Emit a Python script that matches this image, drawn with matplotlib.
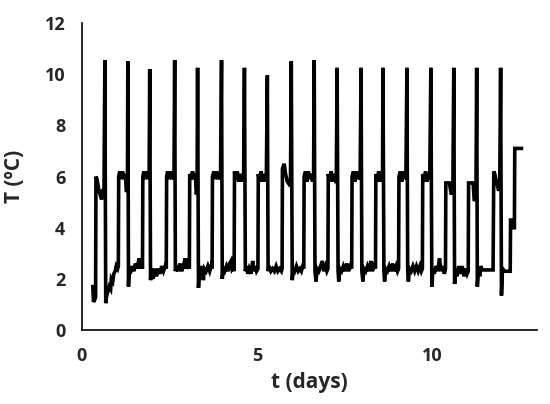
import matplotlib
matplotlib.use("Agg")
import matplotlib.pyplot as plt

# temperature log (one row per cooling cycle)
t_days = [
    0.31, 0.33, 0.37, 0.39, 0.40, 0.43, 0.48, 0.56, 0.60, 0.63, 0.655, 0.68,
    0.70, 0.74, 0.78, 0.82, 0.84, 0.88, 0.91, 0.95, 0.98, 1.02, 1.04,
    1.05, 1.08, 1.12, 1.16, 1.20, 1.24, 1.27, 1.30, 1.311, 1.33,
    1.35, 1.38, 1.43, 1.48, 1.53, 1.58, 1.63, 1.66, 1.70, 1.73,
    1.74, 1.77, 1.81, 1.85, 1.89, 1.92, 1.937, 1.96,
    1.99, 2.03, 2.08, 2.13, 2.18, 2.23, 2.28, 2.33, 2.38, 2.41,
    2.42, 2.45, 2.49, 2.53, 2.57, 2.61, 2.63, 2.650, 2.67,
    2.70, 2.75, 2.80, 2.85, 2.90, 2.95, 2.98, 3.02, 3.07,
    3.08, 3.12, 3.16, 3.20, 3.24, 3.27, 3.29, 3.305, 3.33,
    3.36, 3.40, 3.44, 3.47, 3.50, 3.55, 3.60, 3.65, 3.69, 3.72,
    3.73, 3.77, 3.81, 3.85, 3.89, 3.93, 3.96, 3.989, 4.01,
    4.04, 4.08, 4.13, 4.18, 4.22, 4.26, 4.29, 4.33, 4.35,
    4.36, 4.40, 4.44, 4.48, 4.52, 4.56, 4.60, 4.62, 4.644, 4.67,
    4.70, 4.74, 4.78, 4.83, 4.88, 4.91, 4.95, 4.99, 5.03,
    5.04, 5.08, 5.12, 5.16, 5.20, 5.24, 5.27, 5.299, 5.32,
    5.35, 5.40, 5.45, 5.50, 5.55, 5.60, 5.65, 5.70, 5.72,
    5.73, 5.78, 5.82, 5.87, 5.92, 5.96, 5.983, 6.01,
    6.04, 6.08, 6.13, 6.18, 6.23, 6.27, 6.31, 6.34,
    6.35, 6.39, 6.43, 6.47, 6.51, 6.55, 6.59, 6.62, 6.638, 6.66,
    6.69, 6.72, 6.77, 6.82, 6.87, 6.91, 6.96, 7.00, 7.03,
    7.04, 7.08, 7.12, 7.16, 7.20, 7.24, 7.27, 7.293, 7.32,
    7.34, 7.37, 7.42, 7.47, 7.52, 7.57, 7.62, 7.67, 7.71,
    7.72, 7.76, 7.80, 7.84, 7.88, 7.92, 7.95, 7.977, 8.00,
    8.03, 8.06, 8.11, 8.16, 8.21, 8.26, 8.30, 8.35, 8.39,
    8.40, 8.44, 8.48, 8.52, 8.56, 8.59, 8.604, 8.63,
    8.65, 8.68, 8.73, 8.78, 8.83, 8.88, 8.93, 8.98, 9.02, 9.05,
    9.06, 9.10, 9.14, 9.18, 9.22, 9.26, 9.288, 9.31,
    9.33, 9.36, 9.41, 9.46, 9.51, 9.56, 9.61, 9.66, 9.70, 9.73,
    9.74, 9.78, 9.82, 9.86, 9.90, 9.94, 9.972, 10.00,
    10.03, 10.07, 10.12, 10.17, 10.22, 10.26, 10.31, 10.36, 10.39,
    10.40, 10.50, 10.55, 10.60, 10.627, 10.65,
    10.68, 10.72, 10.77, 10.82, 10.87, 10.92, 10.97, 11.01, 11.04,
    11.05, 11.18, 11.21, 11.26, 11.282, 11.30,
    11.33, 11.37, 11.40, 11.44, 11.75,
    11.77, 11.80, 11.90, 11.94, 11.966, 11.99,
    12.02, 12.08, 12.13, 12.24, 12.25, 12.29, 12.30, 12.36, 12.37, 12.56,
]
temp_c = [
    1.7, 1.1, 1.2, 1.3, 6.0, 5.9, 5.5, 5.1, 5.5, 5.4, 10.55, 1.05,
    1.3, 1.5, 1.7, 1.6, 2.0, 1.9, 2.2, 2.3, 2.5, 2.4, 2.5,
    6.0, 6.2, 5.9, 6.2, 5.9, 6.1, 5.4, 5.5, 10.5, 1.7,
    2.4, 2.2, 2.5, 2.3, 2.6, 2.4, 2.8, 2.4, 2.6, 2.4,
    6.0, 6.2, 5.9, 6.2, 5.9, 6.1, 10.2, 1.95,
    2.4, 2.0, 2.4, 2.1, 2.4, 2.2, 2.5, 2.3, 2.5, 2.4,
    6.0, 6.2, 5.9, 6.2, 5.9, 6.1, 5.9, 10.55, 2.3,
    2.5, 2.3, 2.6, 2.3, 2.5, 2.8, 2.4, 2.6, 2.4,
    6.1, 5.9, 6.2, 5.9, 6.1, 5.3, 5.5, 10.25, 1.65,
    2.4, 2.3, 2.5, 1.95, 2.4, 2.3, 2.5, 2.3, 2.5, 2.4,
    6.0, 6.2, 5.9, 6.2, 5.9, 6.1, 5.9, 10.55, 2.0,
    2.4, 2.3, 2.5, 2.3, 2.6, 2.7, 2.4, 2.5, 2.3,
    6.2, 5.9, 6.2, 5.8, 6.1, 5.8, 6.1, 5.9, 10.25, 2.3,
    2.5, 2.2, 2.4, 2.2, 2.7, 2.3, 2.5, 2.3, 2.4,
    6.1, 5.8, 6.2, 5.8, 6.1, 5.8, 6.0, 9.95, 2.3,
    2.5, 2.3, 2.4, 2.3, 2.5, 2.3, 2.4, 2.3, 2.4,
    6.3, 6.5, 6.1, 5.8, 5.7, 5.8, 10.5, 1.95,
    2.4, 2.3, 2.5, 2.3, 2.4, 2.3, 2.5, 2.4,
    6.0, 6.2, 5.8, 6.2, 5.9, 6.1, 5.8, 6.0, 10.55, 2.3,
    1.9, 2.4, 2.3, 2.5, 2.7, 2.3, 2.5, 2.3, 2.4,
    6.1, 5.8, 6.2, 5.8, 6.1, 5.9, 6.0, 10.25, 2.3,
    1.9, 2.4, 2.3, 2.5, 2.3, 2.6, 2.3, 2.5, 2.4,
    6.0, 6.2, 5.8, 6.2, 5.9, 6.1, 5.9, 10.25, 2.3,
    1.9, 2.4, 2.3, 2.5, 2.3, 2.7, 2.3, 2.5, 2.4,
    6.1, 5.8, 6.2, 5.8, 6.1, 5.9, 10.25, 2.3,
    1.9, 2.4, 2.3, 2.5, 2.3, 2.6, 2.3, 2.5, 2.3, 2.4,
    6.0, 6.2, 5.8, 6.2, 5.9, 6.1, 10.25, 2.3,
    1.9, 2.4, 2.3, 2.5, 2.3, 2.5, 2.3, 2.5, 2.3, 2.4,
    6.1, 5.8, 6.2, 5.8, 6.1, 5.9, 10.25, 1.7,
    2.4, 2.2, 2.5, 2.3, 2.8, 2.3, 2.5, 2.2, 2.4,
    5.75, 5.75, 5.35, 5.35, 10.25, 1.8,
    2.4, 2.1, 2.5, 2.2, 2.5, 2.1, 2.4, 2.2, 2.3,
    5.75, 5.75, 5.1, 5.1, 10.25, 1.7,
    2.3, 2.1, 2.5, 2.35, 2.35,
    6.2, 6.1, 5.5, 5.5, 10.25, 1.35,
    2.4, 2.3, 2.3, 2.3, 4.3, 4.3, 4.0, 4.0, 7.1, 7.1,
]

x_ticks = [0, 5, 10]
y_ticks = [0, 2, 4, 6, 8, 10, 12]

plt.rcParams['font.family'] = ['Open Sans', 'DejaVu Sans']
plt.rcParams['font.weight'] = 'bold'

fig = plt.figure(figsize=(5.5, 4.04), dpi=100)
ax = fig.add_axes([0.149, 0.183, 0.827, 0.760])

ax.plot(t_days, temp_c, color='black', linewidth=2.6, solid_joinstyle='miter')

ax.set_xlim(0, 13)
ax.set_ylim(0, 12)
ax.set_xticks(x_ticks)
ax.set_yticks(y_ticks)
ax.tick_params(length=0, labelsize=13, pad=12, colors='#262626')
for lab in ax.get_xticklabels() + ax.get_yticklabels():
    lab.set_fontweight('bold')

ax.spines['top'].set_visible(False)
ax.spines['right'].set_visible(False)
ax.spines['left'].set_linewidth(1.2)
ax.spines['bottom'].set_linewidth(1.2)

ax.set_xlabel('t (days)', fontsize=15, fontweight='bold', color='#262626', labelpad=5)
ax.set_ylabel('T (ºC)', fontsize=15, fontweight='bold', color='#262626', labelpad=14)

fig.savefig('out.png', dpi=100)
